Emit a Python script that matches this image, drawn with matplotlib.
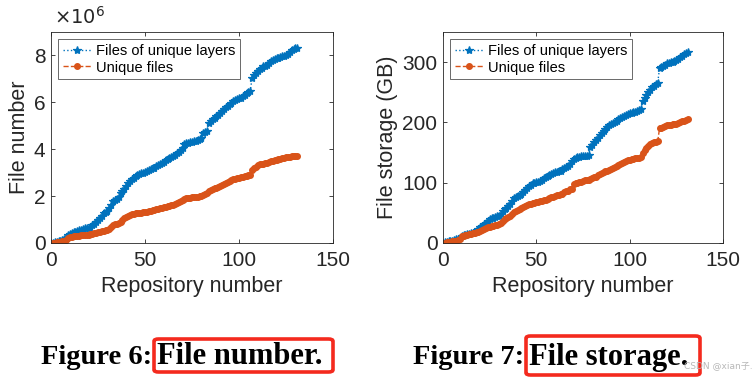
import matplotlib
matplotlib.use("Agg")
import matplotlib.pyplot as plt
from matplotlib.patches import FancyBboxPatch
import numpy as np

repos = list(range(1, 132))

# File number (x10^6)
files_unique_layers = [
    0.02, 0.04, 0.06, 0.08, 0.10, 0.13, 0.16, 0.20, 0.34, 0.38,
    0.42, 0.45, 0.48, 0.51, 0.54, 0.57, 0.60, 0.62, 0.64, 0.66,
    0.70, 0.75, 0.82, 0.90, 0.98, 1.05, 1.15, 1.28, 1.33, 1.38,
    1.48, 1.62, 1.78, 1.83, 1.86, 1.95, 2.12, 2.22, 2.30, 2.42,
    2.58, 2.65, 2.72, 2.78, 2.84, 2.88, 2.93, 2.97, 3.00, 3.02,
    3.06, 3.10, 3.14, 3.18, 3.22, 3.27, 3.32, 3.37, 3.42, 3.47,
    3.52, 3.57, 3.62, 3.67, 3.72, 3.77, 3.82, 3.88, 3.96, 4.05,
    4.22, 4.26, 4.28, 4.30, 4.32, 4.34, 4.36, 4.38, 4.42, 4.50,
    4.68, 4.72, 4.78, 5.12, 5.20, 5.28, 5.34, 5.40, 5.47, 5.54,
    5.62, 5.70, 5.78, 5.85, 5.92, 5.98, 6.04, 6.10, 6.14, 6.17,
    6.20, 6.25, 6.32, 6.38, 6.42, 6.50, 7.05, 7.15, 7.25, 7.35,
    7.42, 7.48, 7.53, 7.56, 7.60, 7.68, 7.75, 7.80, 7.84, 7.87,
    7.90, 7.93, 7.96, 7.99, 8.02, 8.08, 8.15, 8.22, 8.27, 8.30,
    8.33]
files_unique = [
    0.01, 0.02, 0.03, 0.04, 0.05, 0.07, 0.09, 0.12, 0.22, 0.25,
    0.27, 0.28, 0.29, 0.30, 0.31, 0.32, 0.33, 0.34, 0.35, 0.36,
    0.38, 0.40, 0.42, 0.44, 0.46, 0.48, 0.50, 0.52, 0.54, 0.56,
    0.58, 0.68, 0.78, 0.80, 0.82, 0.84, 0.90, 1.00, 1.05, 1.10,
    1.16, 1.20, 1.22, 1.24, 1.26, 1.27, 1.28, 1.30, 1.31, 1.33,
    1.34, 1.36, 1.38, 1.40, 1.42, 1.44, 1.46, 1.48, 1.50, 1.52,
    1.54, 1.56, 1.58, 1.60, 1.62, 1.66, 1.70, 1.74, 1.78, 1.82,
    1.86, 1.90, 1.92, 1.94, 1.95, 1.96, 1.97, 1.98, 1.99, 2.02,
    2.06, 2.10, 2.15, 2.22, 2.26, 2.30, 2.33, 2.36, 2.40, 2.44,
    2.48, 2.52, 2.56, 2.60, 2.64, 2.68, 2.72, 2.75, 2.77, 2.79,
    2.81, 2.83, 2.85, 2.87, 2.89, 2.92, 3.10, 3.18, 3.26, 3.32,
    3.35, 3.37, 3.39, 3.41, 3.43, 3.46, 3.49, 3.51, 3.53, 3.55,
    3.57, 3.59, 3.61, 3.63, 3.65, 3.67, 3.68, 3.69, 3.70, 3.71,
    3.72]

# File storage (GB)
storage_unique_layers = [
    1, 2, 3, 3.5, 4, 5, 6, 7, 8, 12,
    13, 14, 15, 15.5, 16, 17, 19, 22, 24, 26,
    28, 31, 34, 37, 39, 41, 42, 43, 44, 45,
    48, 53, 56, 58, 61, 64, 70, 74, 76, 78,
    80, 82, 85, 88, 91, 94, 97, 99, 100, 101,
    102, 103, 105, 107, 109, 111, 113, 115, 116, 117,
    118, 119, 120, 122, 124, 126, 128, 131, 136, 139,
    141, 142, 143, 143.5, 144, 144.5, 145, 146, 160, 163,
    167, 171, 175, 179, 183, 186, 189, 192, 195, 197,
    199, 201, 203, 205, 207, 209, 211, 213, 214, 215,
    216, 217, 218, 219, 220, 222, 235, 240, 245, 250,
    254, 258, 261, 263, 265, 290, 292, 294, 296, 298,
    299, 300, 301, 302, 303, 305, 308, 311, 313, 315,
    316]
storage_unique = [
    0.5, 1, 1.5, 2, 2.5, 3, 4, 5, 6, 11,
    12, 13, 14, 14.5, 15, 16, 17, 18, 19, 20,
    22, 24, 25, 26, 27, 28, 29, 30, 30.5, 31,
    33, 37, 39, 41, 43, 45, 48, 51, 53, 55,
    57, 58, 60, 62, 63, 64, 65, 66, 67, 68,
    68.5, 69, 70, 71, 72, 73, 74, 76, 77, 78,
    79, 80, 81, 82, 84, 86, 87, 89, 90, 98,
    99, 100, 101, 102, 103, 104, 104.5, 105, 106, 108,
    109, 110, 112, 114, 116, 118, 119, 120, 121, 122,
    124, 126, 128, 130, 131, 133, 135, 136, 137, 138,
    139, 140, 140.5, 141, 141.5, 142, 150, 155, 158, 161,
    164, 166, 167, 168, 168.5, 190, 191, 192, 194, 195,
    196, 196.5, 197, 197.5, 198, 199, 201, 202, 203, 204,
    205]

legend_labels = ["Files of unique layers", "Unique files"]
xticks = [0, 50, 100, 150]
yticks_left = [0, 2, 4, 6, 8]
yticks_right = [0, 100, 200, 300]

BLUE = "#0072BD"
ORANGE = "#D95319"
TXT = "#262626"
SANS = ["Liberation Sans", "DejaVu Sans"]

plt.rcParams["font.family"] = SANS

W, H = 756, 381
fig = plt.figure(figsize=(W / 100, H / 100), dpi=100)


def px_axes(l, t, r, b):
    return fig.add_axes([l / W, 1 - b / H, (r - l) / W, (b - t) / H])


def style(ax, yt, ylim, ylabel):
    ax.set_xlim(0, 150)
    ax.set_ylim(*ylim)
    ax.set_xticks(xticks)
    ax.set_yticks(yt)
    ax.tick_params(direction="in", top=True, right=True, labelsize=15,
                   length=3, width=0.6, colors=TXT)
    ax.tick_params(axis="x", pad=6)
    ax.tick_params(axis="y", pad=4)
    for s in ax.spines.values():
        s.set_linewidth(0.6)
        s.set_color(TXT)
    ax.set_xlabel("Repository number", fontsize=15.5, color=TXT, labelpad=4)
    ax.set_ylabel(ylabel, fontsize=15.5, color=TXT, labelpad=3)
    leg = ax.legend(loc="upper left", fontsize=10.5, frameon=True, fancybox=False,
                    borderpad=0.3, handlelength=2.0, handletextpad=0.3,
                    labelspacing=0.2, borderaxespad=0.5)
    leg.get_frame().set_edgecolor(TXT)
    leg.get_frame().set_linewidth(0.6)


def draw(ax, a, b):
    ax.plot(repos, a, linestyle=":", color=BLUE, marker="*",
            markersize=6, markeredgewidth=0.9, linewidth=1, label=legend_labels[0])
    ax.plot(repos, b, linestyle="--", color=ORANGE, marker=".",
            markersize=8, linewidth=1, label=legend_labels[1])


ax1 = px_axes(51, 32, 333, 243)
draw(ax1, files_unique_layers, files_unique)
style(ax1, yticks_left, (0, 9), "File number")
ax1.text(0.01, 1.02, r"$\times10^{6}$", transform=ax1.transAxes, fontsize=14,
         color=TXT, ha="left", va="bottom")

ax2 = px_axes(443, 32, 723, 243)
draw(ax2, storage_unique_layers, storage_unique)
style(ax2, yticks_right, (0, 350), "File storage (GB)")

# Captions
SERIF = ["Liberation Serif", "DejaVu Serif"]
cap_y = 1 - 357 / H
fig.text(152 / W, cap_y, "Figure 6:", fontsize=20.5, fontweight="bold",
         family=SERIF, ha="right", va="center")
fig.text(157 / W, cap_y, "File number.", fontsize=22, fontweight="bold",
         family=SERIF, ha="left", va="center")
fig.text(524 / W, cap_y, "Figure 7:", fontsize=20.5, fontweight="bold",
         family=SERIF, ha="right", va="center")
fig.text(529 / W, cap_y, "File storage.", fontsize=22, fontweight="bold",
         family=SERIF, ha="left", va="center")

for (l, t, r, b) in [(154, 339, 333, 372), (526, 336, 700, 375)]:
    box = FancyBboxPatch((l / W, 1 - b / H), (r - l) / W, (b - t) / H,
                         boxstyle="round,pad=0,rounding_size=0.006",
                         transform=fig.transFigure, fill=False,
                         edgecolor="#F42A1E", linewidth=2.6)
    fig.add_artist(box)

fig.text(753 / W, 1 - 366 / H, "CSDN @xian子.", fontsize=6.5, color="#B8B8B8",
         family=["DejaVu Sans", "Noto Sans CJK SC"], ha="right", va="center")

fig.savefig("out.png", dpi=100)
